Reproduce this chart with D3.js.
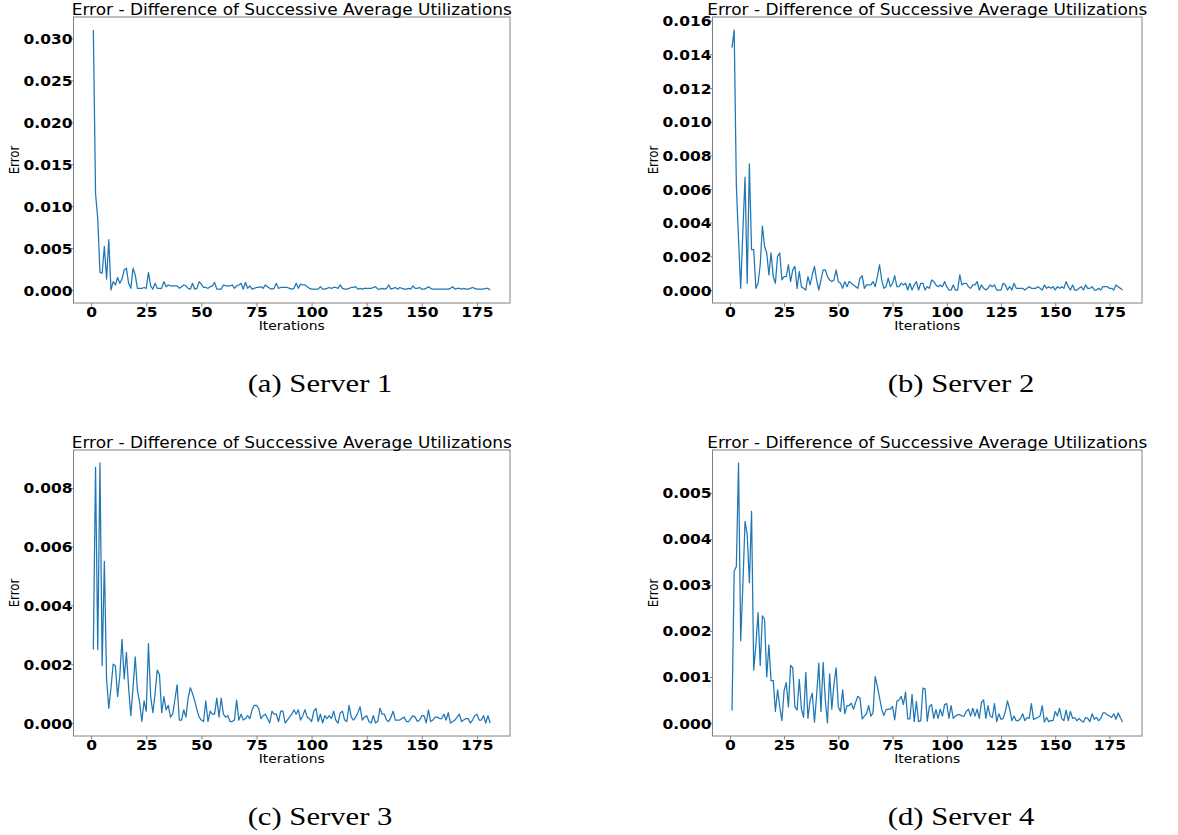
<!DOCTYPE html>
<html>
<head>
<meta charset="utf-8">
<script src="https://cdn.jsdelivr.net/npm/d3@7"></script>
<style>
  html, body { margin: 0; padding: 0; background: #ffffff; }
  svg { display: block; }
</style>
</head>
<body>
<svg id="chart" width="1178" height="835"></svg>
<script>
// ---------------- DATA (values in units of 0.001) ----------------
const iterations = d3.range(1, 182);

const server1 = [
  31.0, 11.5, 8.5, 2.1, 2.0, 5.2, 1.3, 6.0, 0.0, 1.0,
  0.6, 1.5, 0.8, 1.3, 2.4, 2.6, 0.8, 0.2, 2.6, 1.8,
  0.2, 0.2, 0.2, 0.3, 0.2, 2.1, 0.5, 0.1, 0.8, 0.2,
  0.2, 0.2, 1.0, 0.4, 0.6, 0.5, 0.5, 0.5, 0.5, 0.2,
  0.4, 0.6, 0.5, 0.2, 0.1, 0.8, 0.1, 0.2, 1.0, 0.7,
  0.3, 0.3, 0.2, 0.4, 0.5, 0.9, 0.1, 0.1, 0.1, 0.6,
  0.5, 0.5, 0.5, 0.6, 0.2, 0.5, 0.6, 0.8, 0.1, 0.9,
  0.2, 0.5, 0.1, 0.2, 0.3, 0.3, 0.4, 0.2, 0.6, 0.4,
  0.2, 0.1, 0.2, 0.8, 0.2, 0.3, 0.3, 0.3, 0.3, 0.2,
  0.1, 0.2, 0.8, 0.2, 0.7, 0.6, 0.6, 0.4, 0.2, 0.1,
  0.1, 0.1, 0.1, 0.4, 0.1, 0.1, 0.2, 0.3, 0.2, 0.3,
  0.3, 0.2, 0.6, 0.2, 0.1, 0.1, 0.2, 0.3, 0.3, 0.4,
  0.1, 0.2, 0.1, 0.2, 0.2, 0.2, 0.2, 0.3, 0.4, 0.1,
  0.1, 0.2, 0.1, 0.2, 0.6, 0.1, 0.2, 0.3, 0.1, 0.3,
  0.2, 0.1, 0.1, 0.2, 0.1, 0.5, 0.2, 0.2, 0.3, 0.1,
  0.1, 0.2, 0.4, 0.2, 0.1, 0.1, 0.1, 0.1, 0.1, 0.1,
  0.1, 0.1, 0.2, 0.4, 0.1, 0.2, 0.2, 0.1, 0.2, 0.1,
  0.1, 0.2, 0.3, 0.2, 0.1, 0.1, 0.1, 0.1, 0.2, 0.2,
  0.0
];

const server2 = [
  14.4, 15.45, 6.2, 3.0, 0.1, 3.5, 6.7, 0.4, 7.5, 2.4,
  2.4, 0.1, 0.4, 1.5, 3.8, 2.6, 2.2, 0.9, 2.2, 0.8,
  0.4, 2.0, 2.2, 0.6, 0.8, 0.8, 1.5, 0.5, 1.2, 1.4,
  0.1, 1.1, 0.2, 0.1, 0.0, 0.8, 0.3, 0.9, 1.4, 0.6,
  0.0, 0.6, 1.2, 1.2, 0.8, 0.6, 0.5, 0.6, 1.2, 0.5,
  0.4, 0.1, 0.5, 0.2, 0.5, 0.4, 0.3, 0.2, 0.1, 0.7,
  0.85, 0.1, 0.3, 0.3, 0.3, 0.5, 0.2, 0.8, 1.5, 0.6,
  0.1, 0.2, 0.7, 0.2, 0.4, 0.85, 0.2, 0.2, 0.4, 0.3,
  0.4, 0.0, 0.4, 0.0, 0.3, 0.5, 0.0, 0.4, 0.4, 0.0,
  0.2, 0.1, 0.6, 0.5, 0.3, 0.2, 0.3, 0.2, 0.5, 0.2,
  0.0, 0.0, 0.3, 0.0, 0.0, 0.9, 0.3, 0.4, 0.4, 0.2,
  0.1, 0.3, 0.3, 0.5, 0.0, 0.3, 0.1, 0.0, 0.1, 0.3,
  0.2, 0.3, 0.0, 0.0, 0.0, 0.4, 0.3, 0.0, 0.2, 0.0,
  0.4, 0.1, 0.1, 0.1, 0.1, 0.0, 0.1, 0.2, 0.1, 0.1,
  0.1, 0.2, 0.1, 0.0, 0.3, 0.1, 0.2, 0.1, 0.2, 0.0,
  0.2, 0.1, 0.2, 0.1, 0.5, 0.2, 0.0, 0.3, 0.0, 0.0,
  0.1, 0.2, 0.0, 0.3, 0.1, 0.1, 0.2, 0.0, 0.0, 0.1,
  0.0, 0.2, 0.2, 0.2, 0.1, 0.1, 0.0, 0.3, 0.2, 0.1,
  0.0
];

const server3 = [
  2.5, 8.7, 2.5, 8.85, 1.95, 5.5, 1.5, 0.5, 1.2, 2.0,
  1.95, 0.9, 1.6, 2.85, 1.5, 2.4, 1.2, 0.25, 1.2, 2.25,
  1.1, 0.7, 0.05, 0.75, 0.4, 2.7, 0.9, 0.35, 1.0, 1.8,
  1.65, 0.35, 0.9, 0.45, 0.6, 0.2, 0.3, 0.8, 1.3, 0.1,
  0.1, 0.45, 0.2, 0.85, 1.2, 1.0, 0.75, 0.45, 0.2, 0.1,
  0.05, 0.75, 0.05, 0.4, 0.3, 0.3, 0.85, 0.2, 0.85, 0.3,
  0.2, 0.25, 0.05, 0.05, 0.1, 0.78, 0.1, 0.3, 0.1, 0.15,
  0.25, 0.15, 0.45, 0.6, 0.6, 0.5, 0.15, 0.25, 0.3, 0.15,
  0.0, 0.4, 0.3, 0.3, 0.05, 0.4, 0.4, 0.0, 0.1, 0.2,
  0.3, 0.45, 0.3, 0.45, 0.1, 0.25, 0.45, 0.2, 0.15, 0.05,
  0.4, 0.5, 0.05, 0.3, 0.0, 0.25, 0.15, 0.25, 0.15, 0.4,
  0.1, 0.0, 0.35, 0.4, 0.1, 0.05, 0.6, 0.2, 0.1, 0.2,
  0.35, 0.55, 0.1, 0.2, 0.25, 0.05, 0.0, 0.25, 0.0, 0.05,
  0.5, 0.3, 0.3, 0.1, 0.05, 0.2, 0.4, 0.1, 0.1, 0.1,
  0.15, 0.2, 0.05, 0.05, 0.15, 0.25, 0.2, 0.05, 0.1, 0.25,
  0.25, 0.0, 0.45, 0.05, 0.1, 0.2, 0.2, 0.15, 0.15, 0.3,
  0.1, 0.35, 0.0, 0.05, 0.1, 0.2, 0.3, 0.05, 0.1, 0.15,
  0.15, 0.0, 0.1, 0.25, 0.3, 0.1, 0.1, 0.25, 0.0, 0.25,
  0.0
];

const server4 = [
  0.27, 3.3, 3.4, 5.65, 1.79, 3.0, 4.38, 4.1, 3.05, 4.6,
  1.15, 1.7, 2.4, 1.25, 2.33, 2.25, 1.0, 1.7, 0.92, 0.92,
  0.25, 0.72, 0.35, 0.05, 0.7, 0.88, 0.35, 1.25, 1.2, 0.35,
  0.28, 0.95, 0.3, 0.12, 1.1, 0.1, 0.5, 0.65, 0.02, 0.6,
  1.3, 0.25, 1.32, 0.5, 0.0, 1.07, 0.3, 0.85, 1.2, 0.35,
  0.25, 0.72, 0.2, 0.38, 0.38, 0.43, 0.3, 0.45, 0.58, 0.54,
  0.09, 0.15, 0.2, 0.38, 0.15, 0.22, 1.01, 0.8, 0.55, 0.3,
  0.16, 0.29, 0.3, 0.3, 0.36, 0.07, 0.47, 0.5, 0.58, 0.4,
  0.67, 0.09, 0.09, 0.62, 0.03, 0.47, 0.03, 0.05, 0.76, 0.74,
  0.04, 0.36, 0.4, 0.1, 0.29, 0.1, 0.3, 0.15, 0.4, 0.42,
  0.1, 0.38, 0.1, 0.15, 0.18, 0.18, 0.15, 0.15, 0.25, 0.3,
  0.15, 0.32, 0.15, 0.3, 0.1, 0.45, 0.5, 0.1, 0.38, 0.15,
  0.12, 0.42, 0.03, 0.2, 0.08, 0.1, 0.25, 0.48, 0.3, 0.05,
  0.15, 0.05, 0.05, 0.1, 0.2, 0.05, 0.12, 0.1, 0.42, 0.08,
  0.1, 0.12, 0.15, 0.38, 0.02, 0.12, 0.03, 0.05, 0.05, 0.25,
  0.15, 0.32, 0.1, 0.05, 0.28, 0.05, 0.25, 0.1, 0.12, 0.05,
  0.1, 0.05, 0.02, 0.12, 0.1, 0.03, 0.2, 0.08, 0.12, 0.05,
  0.1, 0.22, 0.22, 0.18, 0.15, 0.12, 0.2, 0.08, 0.22, 0.12,
  0.02
];

const xTicks = [0, 25, 50, 75, 100, 125, 150, 175];
const yTicks1 = [0, 0.005, 0.010, 0.015, 0.020, 0.025, 0.030];
const yTicks2 = [0, 0.002, 0.004, 0.006, 0.008, 0.010, 0.012, 0.014, 0.016];
const yTicks3 = [0, 0.002, 0.004, 0.006, 0.008];
const yTicks4 = [0, 0.001, 0.002, 0.003, 0.004, 0.005];
const captions = ["(a) Server 1", "(b) Server 2", "(c) Server 3", "(d) Server 4"];
const titleText = "Error - Difference of Successive Average Utilizations";
const xLabel = "Iterations";
const yLabel = "Error";

// ---------------- LAYOUT ----------------
const SX = 1.13; // horizontal stretch of the text in the reference image
const panels = [
  { series: server1, yTicks: yTicks1, left: 73.5, right: 510, top: 17, bottom: 303, capX: 320, capY: 392 },
  { series: server2, yTicks: yTicks2, left: 712.5, right: 1142, top: 17, bottom: 303, capX: 961, capY: 392 },
  { series: server3, yTicks: yTicks3, left: 73.5, right: 510, top: 450, bottom: 736, capX: 320, capY: 825 },
  { series: server4, yTicks: yTicks4, left: 712.5, right: 1142, top: 450, bottom: 736, capX: 961, capY: 825 }
];

const svg = d3.select("#chart");
const SPINE = "#808080";
const LINE = "#1f77b4";

function stretchedText(g, x, y, str, size, weight, anchor, family, sx) {
  return g.append("text")
    .attr("transform", `translate(${x},${y}) scale(${sx || SX},1)`)
    .attr("text-anchor", anchor)
    .style("font-family", family || "'DejaVu Sans', sans-serif")
    .style("font-size", size + "px")
    .style("font-weight", weight)
    .attr("fill", "#000")
    .text(str);
}

panels.forEach((p, idx) => {
  const data = iterations.map((it, i) => ({ x: it, y: p.series[i] / 1000 }));
  const xExt = d3.extent(data, d => d.x);
  const yExt = d3.extent(data, d => d.y);
  const xPad = (xExt[1] - xExt[0]) * 0.05;
  const yPad = (yExt[1] - yExt[0]) * 0.05;

  const x = d3.scaleLinear().domain([xExt[0] - xPad, xExt[1] + xPad]).range([p.left, p.right]);
  const y = d3.scaleLinear().domain([yExt[0] - yPad, yExt[1] + yPad]).range([p.bottom, p.top]);

  const g = svg.append("g");

  // line
  g.append("path")
    .datum(data)
    .attr("fill", "none")
    .attr("stroke", LINE)
    .attr("stroke-width", 1.25)
    .attr("stroke-linejoin", "round")
    .attr("d", d3.line().x(d => x(d.x)).y(d => y(d.y)));

  // frame
  g.append("rect")
    .attr("x", p.left).attr("y", p.top)
    .attr("width", p.right - p.left).attr("height", p.bottom - p.top)
    .attr("fill", "none").attr("stroke", SPINE).attr("stroke-width", 1);

  // x axis
  const xAxis = g.append("g")
    .attr("transform", `translate(0,${p.bottom})`)
    .call(d3.axisBottom(x).tickValues(xTicks).tickSize(3.5).tickPadding(2).tickFormat(d3.format("d")));
  xAxis.select(".domain").remove();
  xAxis.selectAll(".tick line").attr("stroke", SPINE);
  xAxis.selectAll(".tick text")
    .attr("y", null).attr("dy", null)
    .attr("transform", `translate(0,14.3) scale(${SX},1)`)
    .style("font-family", "'DejaVu Sans', sans-serif")
    .style("font-size", "13.7px").style("font-weight", "bold").attr("fill", "#000");

  // y axis
  const yAxis = g.append("g")
    .attr("transform", `translate(${p.left},0)`)
    .call(d3.axisLeft(y).tickValues(p.yTicks).tickSize(2.5).tickFormat(d3.format(".3f")));
  yAxis.select(".domain").remove();
  yAxis.selectAll(".tick line").attr("stroke", SPINE);
  yAxis.selectAll(".tick text")
    .attr("x", null).attr("dy", null)
    .attr("transform", `translate(-1,5) scale(${SX},1)`)
    .style("font-family", "'DejaVu Sans', sans-serif")
    .style("font-size", "13.7px").style("font-weight", "bold").attr("fill", "#000");

  // title
  stretchedText(g, (p.left + p.right) / 2, p.top - 2, titleText, 15, "normal", "middle");

  // x label
  stretchedText(g, (p.left + p.right) / 2, p.bottom + 26.5, xLabel, 12.3, "normal", "middle");

  // y label
  g.append("text")
    .attr("transform", `translate(${p.left - 55},${(p.top + p.bottom) / 2}) scale(${SX},1) rotate(-90)`)
    .attr("text-anchor", "middle")
    .style("font-family", "'DejaVu Sans', sans-serif")
    .style("font-size", "11.8px")
    .attr("fill", "#000")
    .text(yLabel);

  // caption
  stretchedText(g, p.capX, p.capY, captions[idx], 26, "normal", "middle", "'Liberation Serif', 'Times New Roman', serif", 1.18);
});
</script>
</body>
</html>
